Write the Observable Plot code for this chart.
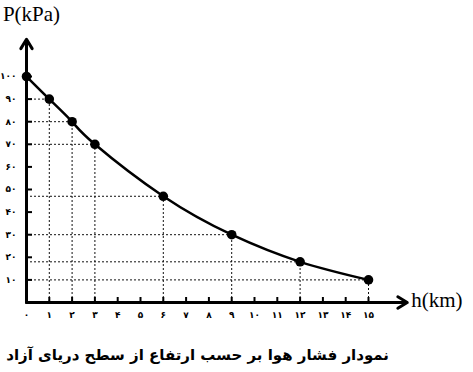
<!DOCTYPE html>
<html>
<head>
<meta charset="utf-8">
<script src="https://cdn.jsdelivr.net/npm/d3@7"></script>
<script src="https://cdn.jsdelivr.net/npm/@observablehq/plot@0.6"></script>
<style>
  body { margin: 0; background: #fff; }
  #chart { width: 473px; }
  .caption {
    width: 473px;
    box-sizing: border-box;
    padding: 14px 84px 0 0;
    height: 42px;
    line-height: 22px;
    font-family: "DejaVu Sans", sans-serif;
    font-weight: bold;
    font-size: 15px;
    direction: rtl;
    text-align: right;
    white-space: nowrap;
    color: #000;
  }
</style>
</head>
<body>
<div id="chart"></div>
<script>
// Air pressure (kPa) against altitude above sea level (km)
const altitudeKm = [0, 1, 2, 3, 6, 9, 12, 15];
const pressureKPa = [100, 90, 80, 70, 47, 30, 18, 10];

const xTicks = [0, 1, 2, 3, 4, 5, 6, 7, 8, 9, 10, 11, 12, 13, 14, 15];
const xTickLabels = ["۰", "۱", "۲", "۳", "۴", "۵", "۶", "۷", "۸", "۹", "۱۰", "۱۱", "۱۲", "۱۳", "۱۴", "۱۵"];
const yTicks = [10, 20, 30, 40, 50, 60, 70, 80, 90, 100];
const yTickLabels = ["۱۰", "۲۰", "۳۰", "۴۰", "۵۰", "۶۰", "۷۰", "۸۰", "۹۰", "۱۰۰"];

const xAxisLabel = "h(km)";
const yAxisLabel = "P(kPa)";
const captionText = "نمودار فشار هوا بر حسب ارتفاع از سطح دریای آزاد";

// how far the arrowed axes run past the last tick
const xAxisEnd = 16.7;
const yAxisEnd = 116.5;

const points = altitudeKm.map((h, i) => ({h, p: pressureKPa[i]}));
const guides = points.filter(d => d.h > 0);

const digitFont = "DejaVu Sans, sans-serif";
const serifFont = "Liberation Serif, Times New Roman, serif";

const chart = Plot.plot({
  width: 473,
  height: 330,
  marginLeft: 26,
  marginRight: 105,
  marginTop: 76,
  marginBottom: 28,
  x: {domain: [0, 15]},
  y: {domain: [0, 100]},
  style: {background: "white", color: "black"},
  marks: [
    // dotted guides from each reading back to both axes
    Plot.ruleY(guides, {y: "p", x1: 0, x2: "h", stroke: "#111", strokeWidth: 1, strokeDasharray: "2,2"}),
    Plot.ruleX(guides, {x: "h", y1: 0, y2: "p", stroke: "#111", strokeWidth: 1, strokeDasharray: "2,2"}),
    // axes with arrowheads
    Plot.arrow([0], {x1: 0, y1: 0, x2: xAxisEnd, y2: 0, strokeWidth: 3, headAngle: 62, headLength: 5.5, stroke: "black"}),
    Plot.arrow([0], {x1: 0, y1: 0, x2: 0, y2: yAxisEnd, strokeWidth: 3, headAngle: 62, headLength: 5.5, stroke: "black"}),
    Plot.axisX(xTicks, {
      tickSize: -5, tickPadding: 14, strokeWidth: 2, label: null,
      tickFormat: d => xTickLabels[xTicks.indexOf(d)],
      fontSize: 9, fontFamily: digitFont, fontWeight: "bold"
    }),
    Plot.axisY(yTicks, {
      tickSize: -6, tickPadding: 16, strokeWidth: 2, label: null,
      tickFormat: d => yTickLabels[yTicks.indexOf(d)],
      fontSize: 9, fontFamily: digitFont, fontWeight: "bold"
    }),
    // smooth pressure curve through the readings
    Plot.line(points, {x: "h", y: "p", curve: "natural", strokeWidth: 2.5, stroke: "black"}),
    Plot.dot(points, {x: "h", y: "p", r: 4.8, fill: "black"}),
    Plot.text([yAxisLabel], {x: 0, y: yAxisEnd, dx: 5, dy: -25, fontSize: 21, fontFamily: serifFont, textAnchor: "middle"}),
    Plot.text([xAxisLabel], {x: xAxisEnd, y: 0, dx: 4, dy: -2, fontSize: 21, fontFamily: serifFont, textAnchor: "start"})
  ]
});

document.getElementById("chart").append(chart);
const cap = document.createElement("div");
cap.className = "caption";
cap.textContent = captionText;
document.body.append(cap);
</script>
</body>
</html>
